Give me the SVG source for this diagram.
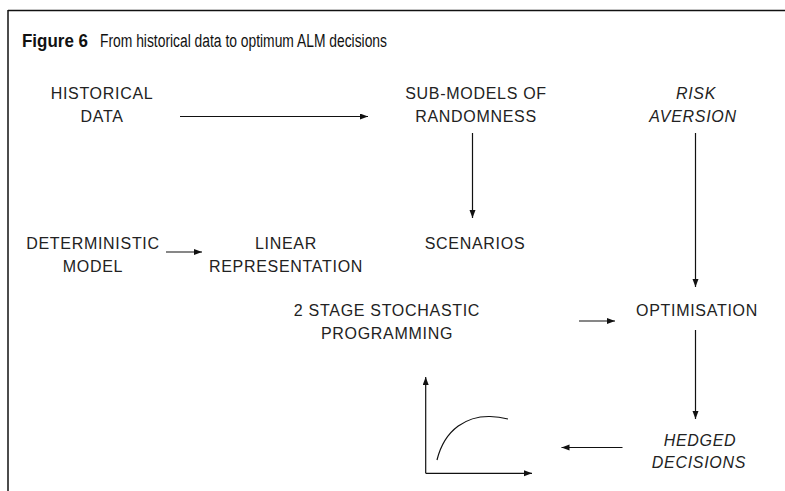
<svg xmlns="http://www.w3.org/2000/svg" width="785" height="491" viewBox="0 0 785 491">
<defs>
<marker id="ah" markerWidth="9" markerHeight="7" refX="8" refY="3" orient="auto" markerUnits="userSpaceOnUse">
<path d="M0,0 L8,3 L0,6 z" fill="#111"/>
</marker>
<style>
.lbl{font-family:"Liberation Sans","DejaVu Sans",sans-serif;font-size:16px;letter-spacing:0.7px;fill:#222;text-anchor:middle}
.it{font-style:italic}
.ln{stroke:#111;stroke-width:1.2;fill:none}
.ar{marker-end:url(#ah)}
</style>
</defs>
<rect width="785" height="491" fill="#fff"/>
<g id="frame">
<line x1="8" y1="10.5" x2="785" y2="10.5" stroke="#111" stroke-width="1.5"/>
<line x1="8" y1="10" x2="8" y2="491" stroke="#111" stroke-width="1.5"/>
</g>
<g id="title" font-family="'Liberation Sans','DejaVu Sans',sans-serif" font-size="18" fill="#111">
<text x="22" y="47" font-weight="bold" textLength="66" lengthAdjust="spacingAndGlyphs">Figure 6</text>
<text x="100" y="47" textLength="287" lengthAdjust="spacingAndGlyphs">From historical data to optimum ALM decisions</text>
</g>
<g id="historical"><text class="lbl"><tspan x="102" y="99">HISTORICAL</tspan><tspan x="102" y="122">DATA</tspan></text></g>
<g id="submodels"><text class="lbl"><tspan x="476" y="99">SUB-MODELS OF</tspan><tspan x="476" y="122">RANDOMNESS</tspan></text></g>
<g id="risk"><text class="lbl it"><tspan x="696" y="99">RISK</tspan><tspan x="693" y="122">AVERSION</tspan></text></g>
<g id="deterministic"><text class="lbl"><tspan x="93" y="249">DETERMINISTIC</tspan><tspan x="93" y="272">MODEL</tspan></text></g>
<g id="linear"><text class="lbl"><tspan x="286" y="249">LINEAR</tspan><tspan x="286" y="272">REPRESENTATION</tspan></text></g>
<g id="scenarios"><text class="lbl"><tspan x="475" y="249">SCENARIOS</tspan></text></g>
<g id="stochastic"><text class="lbl"><tspan x="387" y="316">2 STAGE STOCHASTIC</tspan><tspan x="387" y="339">PROGRAMMING</tspan></text></g>
<g id="optimisation"><text class="lbl"><tspan x="697" y="316">OPTIMISATION</tspan></text></g>
<g id="hedged"><text class="lbl it"><tspan x="700" y="446">HEDGED</tspan><tspan x="699" y="468">DECISIONS</tspan></text></g>
<g id="chart">
<line class="ln ar" x1="425.7" y1="473.3" x2="425.7" y2="377"/>
<line class="ln ar" x1="425.7" y1="473.3" x2="532" y2="473.3"/>
<path class="ln" d="M437,460 C445,428 468,416 490,416.5 C498,416.7 504,418 508,419"/>
</g>
<g id="connectors">
<line class="ln ar" x1="180" y1="116.5" x2="368" y2="116.5"/>
<line class="ln ar" x1="472.5" y1="133" x2="472.5" y2="218"/>
<line class="ln ar" x1="695.5" y1="133" x2="695.5" y2="287"/>
<line class="ln ar" x1="166" y1="252" x2="202" y2="252"/>
<line class="ln ar" x1="579" y1="321" x2="615" y2="321"/>
<line class="ln ar" x1="695.5" y1="330" x2="695.5" y2="419"/>
<line class="ln ar" x1="622.5" y1="447.5" x2="561.5" y2="447.5"/>
</g>
</svg>
